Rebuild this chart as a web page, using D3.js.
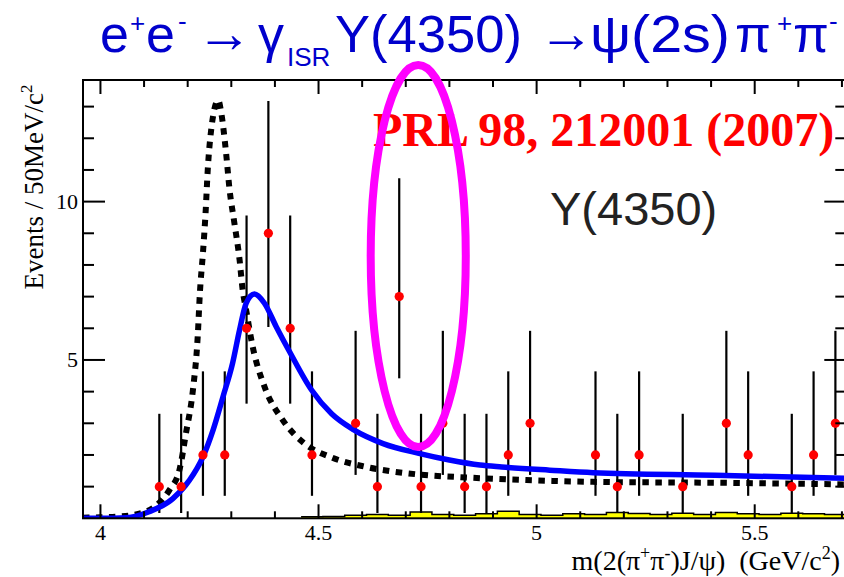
<!DOCTYPE html>
<html>
<head>
<meta charset="utf-8">
<script src="https://cdn.jsdelivr.net/npm/d3@7"></script>
<style>
  html, body { margin: 0; padding: 0; background: #fff; }
  svg { display: block; }
</style>
</head>
<body>
<svg id="chart" width="844" height="577"></svg>
<script>
// Bin centres of the 50 MeV mass bins that hold events (GeV/c^2)
const binCenters = [4.135, 4.185, 4.235, 4.285, 4.335, 4.385, 4.435, 4.485, 4.585, 4.635,
                    4.685, 4.735, 4.785, 4.835, 4.885, 4.935, 4.985, 5.135, 5.185, 5.235,
                    5.335, 5.435, 5.485, 5.585, 5.635, 5.685];
// Events per bin
const counts = [1, 1, 2, 2, 6, 9, 6, 2, 3, 1,
                7, 1, 3, 1, 1, 2, 3, 2, 1, 2,
                1, 3, 2, 1, 2, 3];
// Lower and upper ends of the Poisson error bars
const errLow  = [0.17, 0.17, 0.71, 0.71, 3.62, 6.04, 3.62, 0.71, 1.37, 0.17,
                 4.42, 0.17, 1.37, 0.17, 0.17, 0.71, 1.37, 0.71, 0.17, 0.71,
                 0.17, 1.37, 0.71, 0.17, 0.71, 1.37];
const errHigh = [3.30, 3.30, 4.64, 4.64, 9.56, 13.18, 9.56, 4.64, 5.92, 3.30,
                 10.74, 3.30, 5.92, 3.30, 3.30, 4.64, 5.92, 4.64, 3.30, 4.64,
                 3.30, 5.92, 4.64, 3.30, 4.64, 5.92];

// Fit with the Y(4350) resonance (solid blue)
const fitMass = [3.96, 4.00, 4.06, 4.11, 4.166, 4.204, 4.235, 4.258, 4.281, 4.303,
                 4.319, 4.334, 4.353, 4.376, 4.403, 4.434, 4.484, 4.53, 4.58, 4.648,
                 4.73, 4.80, 4.87, 4.92, 5.03, 5.13, 5.41, 5.71];
const fitEvents = [0.0, 0.0, 0.02, 0.2, 0.62, 1.2, 1.94, 2.78, 3.84, 4.9,
                   5.95, 6.79, 7.08, 6.79, 6.05, 5.25, 4.05, 3.3, 2.8, 2.36,
                   2.05, 1.84, 1.68, 1.62, 1.52, 1.44, 1.36, 1.26];

// Alternative line shape (dotted black)
const altMass = [3.96, 4.00, 4.036, 4.089, 4.124, 4.158, 4.181, 4.196, 4.212, 4.223,
                 4.228, 4.235, 4.241, 4.246, 4.254, 4.270, 4.277, 4.288, 4.296, 4.307,
                 4.319, 4.326, 4.334, 4.349, 4.376, 4.418, 4.468, 4.53, 4.61, 4.725,
                 4.839, 4.992, 5.138, 5.428, 5.71];
const altEvents = [0.02, 0.03, 0.05, 0.15, 0.36, 0.89, 1.52, 2.68, 4.05, 5.74,
                   7.12, 8.38, 9.64, 11.0, 12.28, 13.2, 12.8, 11.54, 10.38, 9.33,
                   8.16, 7.22, 6.58, 5.42, 4.16, 3.10, 2.36, 1.92, 1.62, 1.39,
                   1.29, 1.20, 1.15, 1.12, 1.07];

// Background histogram (yellow), low edges of its bins and contents
const bgEdges = [4.46, 4.51, 4.56, 4.61, 4.66, 4.71, 4.76, 4.81, 4.86, 4.91,
                 4.96, 5.01, 5.06, 5.11, 5.16, 5.21, 5.26, 5.31, 5.36, 5.41,
                 5.46, 5.51, 5.56, 5.61, 5.66];
const bgCounts = [0.05, 0.06, 0.10, 0.12, 0.10, 0.20, 0.12, 0.10, 0.14, 0.22,
                  0.12, 0.10, 0.14, 0.12, 0.18, 0.15, 0.12, 0.16, 0.12, 0.18,
                  0.14, 0.12, 0.16, 0.14, 0.12];
const bgWidth = 0.05;

// Axis ticks
const xMajorTicks = [4, 4.5, 5, 5.5];
const xTickLabels = ["4", "4.5", "5", "5.5"];
const yMajorTicks = [5, 10];
const yTickLabels = ["5", "10"];

// ---------------------------------------------------------------
const svg = d3.select("#chart");
const W = 844, H = 577;
const plot = { left: 83, top: 80, right: 846.3, bottom: 518.3 };

const x = d3.scaleLinear().domain([3.96, 5.71]).range([plot.left, plot.right]);
const y = d3.scaleLinear().domain([0, 13.84]).range([plot.bottom, plot.top]);

svg.append("rect").attr("width", W).attr("height", H).attr("fill", "#fff");

svg.append("clipPath").attr("id", "plotClip")
  .append("rect")
  .attr("x", plot.left).attr("y", plot.top)
  .attr("width", plot.right - plot.left).attr("height", plot.bottom - plot.top);

const inner = svg.append("g").attr("clip-path", "url(#plotClip)");

// Background histogram
const bgPts = [];
bgEdges.forEach((e, i) => {
  bgPts.push([e, bgCounts[i]]);
  bgPts.push([e + bgWidth, bgCounts[i]]);
});
const bgArea = d3.area()
  .x(d => x(d[0])).y0(y(0)).y1(d => y(d[1]));
inner.append("path").datum(bgPts)
  .attr("d", bgArea).attr("fill", "#ffff00").attr("stroke", "none");
inner.append("path").datum(bgPts)
  .attr("d", d3.line().x(d => x(d[0])).y(d => y(d[1])))
  .attr("fill", "none").attr("stroke", "#000").attr("stroke-width", 1.5);

// Error bars
const pts = binCenters.map((m, i) => ({ m, n: counts[i], lo: errLow[i], hi: errHigh[i] }));
inner.append("g").selectAll("line").data(pts).join("line")
  .attr("x1", d => x(d.m)).attr("x2", d => x(d.m))
  .attr("y1", d => y(d.lo)).attr("y2", d => y(d.hi))
  .attr("stroke", "#000").attr("stroke-width", 2.2);

// Curves
const curveLine = d3.line().x(d => x(d[0])).y(d => y(d[1])).curve(d3.curveMonotoneX);
inner.append("path")
  .datum(altMass.map((m, i) => [m, altEvents[i]]))
  .attr("d", curveLine)
  .attr("fill", "none").attr("stroke", "#000")
  .attr("stroke-width", 6).attr("stroke-dasharray", "6.5,6.5");
inner.append("path")
  .datum(fitMass.map((m, i) => [m, fitEvents[i]]))
  .attr("d", curveLine)
  .attr("fill", "none").attr("stroke", "#0000ff")
  .attr("stroke-width", 5.5).attr("stroke-linejoin", "round");

// Data points
inner.append("g").selectAll("circle").data(pts).join("circle")
  .attr("cx", d => x(d.m)).attr("cy", d => y(d.n)).attr("r", 4.6)
  .attr("fill", "#ff0000");

// Frame and ticks
const axisG = svg.append("g").attr("stroke", "#000").attr("stroke-width", 2);
axisG.append("rect")
  .attr("x", plot.left).attr("y", plot.top)
  .attr("width", plot.right - plot.left).attr("height", plot.bottom - plot.top)
  .attr("fill", "none");

const xMinor = d3.range(40, 58).map(v => v / 10).filter(v => !xMajorTicks.includes(v));
const yMinor = d3.range(1, 14).filter(v => !yMajorTicks.includes(v));

function xTicks(vals, len) {
  vals.forEach(v => {
    axisG.append("line").attr("x1", x(v)).attr("x2", x(v))
      .attr("y1", plot.bottom).attr("y2", plot.bottom - len);
    axisG.append("line").attr("x1", x(v)).attr("x2", x(v))
      .attr("y1", plot.top).attr("y2", plot.top + len);
  });
}
function yTicks(vals, len) {
  vals.forEach(v => {
    axisG.append("line").attr("x1", plot.left).attr("x2", plot.left + len)
      .attr("y1", y(v)).attr("y2", y(v));
    axisG.append("line").attr("x1", plot.right).attr("x2", plot.right - len)
      .attr("y1", y(v)).attr("y2", y(v));
  });
}
xTicks(xMajorTicks, 14);
xTicks(xMinor, 7);
yTicks(yMajorTicks, 22);
yTicks(yMinor, 11);

// Tick labels
const serif = "'Liberation Serif', 'Times New Roman', serif";
const sans = "'Liberation Sans', Arial, sans-serif";
svg.append("g").selectAll("text").data(xMajorTicks).join("text")
  .attr("x", d => x(d)).attr("y", 540)
  .attr("text-anchor", "middle").attr("font-family", serif).attr("font-size", 22)
  .attr("fill", "#000").text((d, i) => xTickLabels[i]);
svg.append("g").selectAll("text").data(yMajorTicks).join("text")
  .attr("x", 78).attr("y", d => y(d) + 7.5)
  .attr("text-anchor", "end").attr("font-family", serif).attr("font-size", 22)
  .attr("fill", "#000").text((d, i) => yTickLabels[i]);

// Axis titles
const xTitle = svg.append("text")
  .attr("x", 840).attr("y", 570).attr("text-anchor", "end")
  .attr("font-family", serif).attr("font-size", 28).attr("fill", "#000");
xTitle.append("tspan").text("m(2(\u03C0");
xTitle.append("tspan").attr("dy", -11).attr("font-size", 18).text("+");
xTitle.append("tspan").attr("dy", 11).text("\u03C0");
xTitle.append("tspan").attr("dy", -11).attr("font-size", 18).text("-");
xTitle.append("tspan").attr("dy", 11).text(")J/\u03C8)\u00A0\u00A0(GeV/c");
xTitle.append("tspan").attr("dy", -11).attr("font-size", 18).text("2");
xTitle.append("tspan").attr("dy", 11).text(")");

const yTitle = svg.append("text")
  .attr("transform", "translate(43,187) rotate(-90)")
  .attr("text-anchor", "middle")
  .attr("font-family", serif).attr("font-size", 27).attr("fill", "#000");
yTitle.append("tspan").text("Events / 50MeV/c");
yTitle.append("tspan").attr("dy", -11).attr("font-size", 17).text("2");

// Process title
const title = svg.append("text").attr("font-family", sans).attr("fill", "#0000cc");
const tPart = (txt, px, py, size, len) => {
  const t = title.append("tspan").attr("x", px).attr("y", py).attr("font-size", size).text(txt);
  if (len) t.attr("textLength", len).attr("lengthAdjust", "spacingAndGlyphs");
  return t;
};
tPart("e", 100, 52, 52);
tPart("+", 130, 32, 26);
tPart("e", 146, 52, 52);
tPart("-", 178, 30, 26);
tPart("\u2192", 196, 52, 56);
tPart("\u03B3", 258, 52, 52);
tPart("ISR", 287, 66, 26);
tPart("Y(4350)", 335, 52, 52, 187);
tPart("\u2192", 538, 52, 56);
tPart("\u03C8(2s)", 590, 52, 52, 140);
tPart("\u03C0", 735, 52, 52);
tPart("+", 777, 32, 26);
tPart("\u03C0", 793, 52, 52);
tPart("-", 829, 30, 26);

// Publication reference and state label
svg.append("text").attr("x", 373).attr("y", 146)
  .attr("font-family", serif).attr("font-weight", "bold").attr("font-size", 48)
  .attr("fill", "#ff0000").text("PRL 98, 212001 (2007)");
svg.append("text").attr("x", 550).attr("y", 225)
  .attr("font-family", sans).attr("font-size", 47)
  .attr("fill", "#222222").text("Y(4350)");

// Highlight around the 4.685 GeV excess
const ringCenter = [4.7286, 8.28];
const ringRadii = [0.109, 6.03];
svg.append("ellipse")
  .attr("cx", x(ringCenter[0])).attr("cy", y(ringCenter[1]))
  .attr("rx", x(ringCenter[0] + ringRadii[0]) - x(ringCenter[0]))
  .attr("ry", y(0) - y(ringRadii[1]))
  .attr("fill", "none").attr("stroke", "#ff00ff").attr("stroke-width", 8);
</script>
</body>
</html>
